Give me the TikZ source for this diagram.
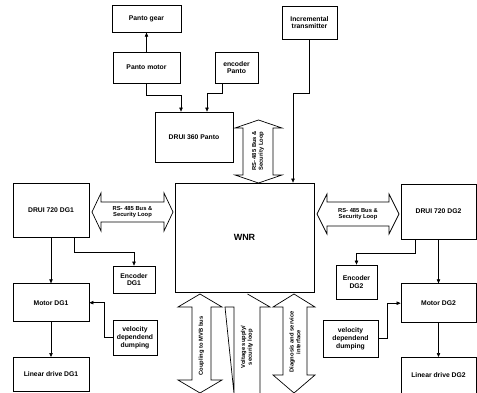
\documentclass[tikz,border=0pt]{standalone}
\usepackage{fontspec}
\setmainfont{Liberation Sans}
\usetikzlibrary{arrows.meta,positioning}
\tikzset{>/.tip={Triangle[length=4pt,width=3.4pt]}}
\tikzset{box/.style={draw,line width=0.7pt,align=center,inner sep=1pt,font=\fontsize{6.8}{7.8}\selectfont\bfseries}}
\tikzset{blk/.style={draw,line width=0.7pt,fill=white}}
\tikzset{blktext/.style={align=center,inner sep=0pt,font=\fontsize{5.8}{6.8}\selectfont\bfseries}}

\begin{document}
\begin{tikzpicture}[x=1pt,y=-1pt,line width=0.6pt,node distance=20pt]
      \useasboundingbox (0,0) rectangle (477,393);

      \node[box,minimum width=67pt,minimum height=31pt] (pmotor) at (146.5,67.5) {Panto motor};
      \node[box,minimum width=69pt,minimum height=27pt,above=19pt of pmotor] (gear) {Panto gear};
      \node[box,minimum width=43pt,minimum height=31pt] (penc) at (236.5,67.5) {encoder\\Panto};
      \node[box,minimum width=78pt,minimum height=50pt] (drui360) at (194,137) {DRUI 360 Panto};
      \node[box,minimum width=55pt,minimum height=33pt] (inc) at (309.5,22.5) {Incremental\\transmitter};
      \node[box,minimum width=139pt,minimum height=109pt,font=\fontsize{9}{10}\selectfont\bfseries] (wnr) at (244.5,237.5) {WNR};

      \node[box,minimum width=76pt,minimum height=54pt] (drui1) at (51,210) {DRUI 720 DG1};
      \node[box,minimum width=76pt,minimum height=38pt,below=46pt of drui1] (mot1) {Motor DG1};
      \node[box,minimum width=76pt,minimum height=34pt,below=35pt of mot1] (lin1) {Linear drive DG1};
      \node[box,minimum width=42pt,minimum height=27pt] (enc1) at (134,279.5) {Encoder\\DG1};
      \node[box,minimum width=44pt,minimum height=35pt] (vel1) at (135,337.5) {velocity\\dependend\\dumping};

      \node[box,minimum width=75pt,minimum height=55pt] (drui2) at (438.5,211.5) {DRUI 720 DG2};
      \node[box,minimum width=75pt,minimum height=39pt,below=44pt of drui2] (mot2) {Motor DG2};
      \node[box,minimum width=75pt,minimum height=36pt,below=34pt of mot2] (lin2) {Linear drive DG2};
      \node[box,minimum width=41pt,minimum height=34pt] (enc2) at (356.5,282) {Encoder\\DG2};
      \node[box,minimum width=55pt,minimum height=37pt] (vel2) at (350.5,338.5) {velocity\\dependend\\dumping};

      \draw[blk] (92,212) -- (101,193) -- (101,202) -- (164,202) -- (164,193) -- (173,212)
        -- (164,231) -- (164,222) -- (101,222) -- (101,231) -- cycle;
      \draw[blk] (317,214) -- (327,194) -- (327,202) -- (389,202) -- (389,194) -- (399,214)
        -- (389,234) -- (389,226) -- (327,226) -- (327,234) -- cycle;
      \draw[blk] (258.5,120) -- (282,128) -- (273,128) -- (273,175) -- (282,175) -- (258.5,183)
        -- (235,175) -- (243,175) -- (243,128) -- (235,128) -- cycle;
      \draw[blk] (200,294) -- (222,307) -- (211,307) -- (211,380) -- (222,380) -- (200,393)
        -- (178,380) -- (192,380) -- (192,307) -- (178,307) -- cycle;
      \draw[blk] (247.5,294) -- (270,307) -- (260,307) -- (260,393.5) (234,393.5) -- (234,307)
        -- (225,307) -- cycle;
      \draw[blk] (294,294) -- (315,307) -- (307,307) -- (307,375) -- (315,375) -- (294,393)
        -- (273,375) -- (283,375) -- (283,307) -- (273,307) -- cycle;

      \node[blktext] (busl) at (132.5,212) {RS- 485 Bus \&\\Security Loop};
      \node[blktext] (busr) at (358,214) {RS- 485 Bus \&\\Security Loop};
      \node[blktext,rotate=90] (busv) at (258,151) {RS- 485 Bus \&\\Security Loop};
      \node[blktext,rotate=90] (mvb) at (201.5,346) {Coupling to MVB bus};
      \node[blktext,rotate=90] (volt) at (247,347) {Voltage supply/\\security loop};
      \node[blktext,rotate=90] (diag) at (295,342) {Diagnosis and service\\interface};

      \draw[->] (pmotor) -- (gear);
      \draw[->] (pmotor.south) -- ++(0,12) -| ([xshift=-13pt]drui360.north);
      \draw[->] ([xshift=-14pt]penc.south) -- ++(0,10) -| ([xshift=13pt]drui360.north);
      \draw[->] (inc.south) -- ++(0,54) -| ([xshift=48.5pt]wnr.north);
      \draw[->] (drui1) -- (mot1);
      \draw[->] (mot1) -- (lin1);
      \draw[->] ([xshift=23pt]drui1.south) -- ++(0,15) -| (enc1.north);
      \draw[->] (vel1.west) -- ++(-8,0) |- (mot1.east);
      \draw[->] (drui2) -- (mot2);
      \draw[->] (mot2) -- (lin2);
      \draw[->] ([xshift=-23.5pt]drui2.south) -- ++(0,14) -| (enc2.north);
      \draw[->] (vel2.east) -- ++(9,0) |- (mot2.west);
    \end{tikzpicture}
\end{document}
